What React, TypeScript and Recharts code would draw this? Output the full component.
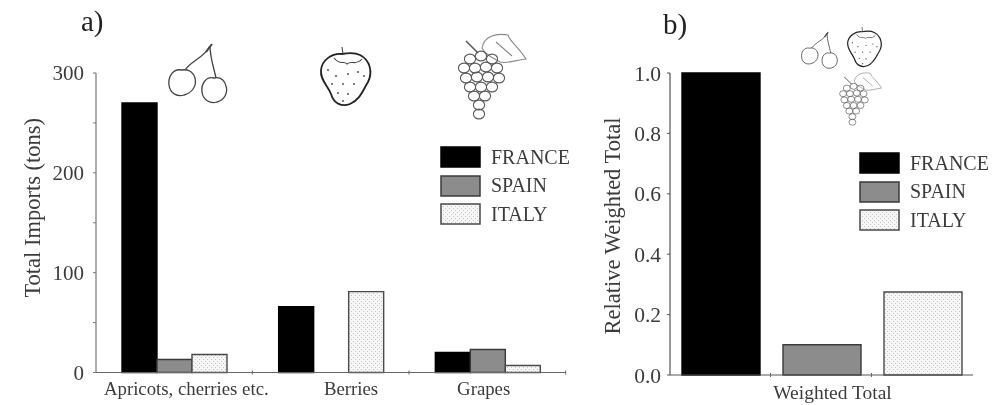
import { BarChart, Bar, XAxis, YAxis, Legend, Label } from "recharts";

const fruitLabels = ["Apricots, cherries etc.", "Berries", "Grapes"];
const franceTons = [270, 66, 20];
const spainTons = [13, 0, 23];
const italyTons = [18, 81, 7];
const tonTicks = [0, 50, 100, 150, 200, 250, 300];

const weightedLabels = ["Weighted Total"];
const franceWeighted = [1.0];
const spainWeighted = [0.1];
const italyWeighted = [0.275];
const weightedTicks = [0, 0.2, 0.4, 0.6, 0.8, 1.0];

const importsData = fruitLabels.map((name, i) => ({
  name,
  france: franceTons[i],
  spain: spainTons[i],
  italy: italyTons[i],
}));

const weightedData = weightedLabels.map((name, i) => ({
  name,
  france: franceWeighted[i],
  spain: spainWeighted[i],
  italy: italyWeighted[i],
}));

const FONT = '"Liberation Serif", serif';
const TEXT = "#3c3c3c";

const series = [
  { key: "france", label: "FRANCE", fill: "#000000", stroke: "#000000" },
  { key: "spain", label: "SPAIN", fill: "#8c8c8c", stroke: "#3a3a3a" },
  { key: "italy", label: "ITALY", fill: "url(#dots)", stroke: "#4a4a4a" },
];

const Dots = () => (
  <defs>
    <pattern id="dots" width="4" height="4" patternUnits="userSpaceOnUse">
      <rect width="4" height="4" fill="#f6f6f6" />
      <rect x="1" y="1" width="1" height="1" fill="#c4c4c4" />
      <rect x="3" y="3" width="1" height="1" fill="#c4c4c4" />
    </pattern>
  </defs>
);

const LegendBox = () => (
  <div style={{ fontFamily: FONT, fontSize: 20, color: TEXT }}>
    {series.map((s) => (
      <div key={s.key} style={{ display: "flex", alignItems: "center", height: 28.5 }}>
        <svg width={41} height={22} style={{ marginRight: 10 }}>
          <rect x={1} y={1} width={39} height={20} fill={s.fill} stroke={s.stroke} strokeWidth={1.5} />
        </svg>
        <span>{s.label}</span>
      </div>
    ))}
  </div>
);

// labels sit off the band centre in the original, small marks fall between groups
const CategoryTick = ({ x, y, payload, shift, marks, drop, size }: any) => (
  <g>
    {marks.map((m: number) => (
      <line key={m} x1={x + m} x2={x + m} y1={y - 10} y2={y - 6} stroke="#666" />
    ))}
    <text
      x={x + shift[payload.index]}
      y={y + drop}
      textAnchor="middle"
      fontFamily={FONT}
      fontSize={size}
      fill={TEXT}
    >
      {payload.value}
    </text>
  </g>
);

const Cherries = ({ transform }: { transform: string }) => (
  <g transform={transform} fill="none" stroke="#444" strokeWidth={1.3}>
    <path d="M210 46 C204 58 192 60 185 70" />
    <path d="M210 46 C210 58 214 68 216 78" />
    <path d="M206 52 L212 44" strokeWidth={2} />
    <path d="M182 70 C172 68 168 78 169 85 C170 94 178 97 184 95 C192 93 197 86 195 78 C193 71 187 69 182 70 Z" />
    <path d="M214 78 C206 76 201 84 202 92 C203 100 210 104 217 102 C225 100 228 92 226 86 C224 79 219 77 214 78 Z" />
  </g>
);

const Strawberry = ({ transform }: { transform: string }) => (
  <g transform={transform}>
    <path
      d="M342 54 C332 53 322 60 321 70 C320 80 328 86 331 94 C334 104 342 107 350 104 C360 100 363 90 368 82 C373 72 370 60 360 55 C354 52 348 53 342 54 Z"
      fill="none"
      stroke="#222"
      strokeWidth={1.8}
    />
    <path d="M342 47 L343 54 M334 58 C340 66 344 60 347 64 C351 60 356 66 362 59" fill="none" stroke="#444" strokeWidth={1.1} />
    <g fill="#444">
      <circle cx={328} cy={70} r={0.9} />
      <circle cx={336} cy={76} r={0.9} />
      <circle cx={348} cy={74} r={0.9} />
      <circle cx={358} cy={72} r={0.9} />
      <circle cx={364} cy={76} r={0.9} />
      <circle cx={332} cy={84} r={0.9} />
      <circle cx={343} cy={84} r={0.9} />
      <circle cx={354} cy={84} r={0.9} />
      <circle cx={338} cy={93} r={0.9} />
      <circle cx={348} cy={94} r={0.9} />
      <circle cx={343} cy={101} r={0.9} />
    </g>
  </g>
);

const Grapes = ({ transform }: { transform: string }) => (
  <g transform={transform} fill="none" stroke="#5a5a5a" strokeWidth={1.1}>
    <path d="M466 41 L478 53" strokeWidth={1.6} />
    <path d="M482 48 C484 36 496 33 508 35 C510 42 518 46 526 59 C516 60 506 64 500 62 C494 58 486 56 482 48 Z" stroke="#8a8a8a" />
    <path d="M496 42 L512 56" stroke="#8a8a8a" />
    {[
      [470, 59], [481, 56], [492, 59], [464, 68], [475, 68], [486, 67], [497, 68],
      [466, 78], [477, 77], [488, 77], [499, 78], [470, 87], [481, 87], [492, 87],
      [474, 96], [485, 96], [479, 105], [479, 114],
    ].map(([cx, cy]) => (
      <ellipse key={`${cx}-${cy}`} cx={cx} cy={cy} rx={5.6} ry={4.9} />
    ))}
  </g>
);

const App = () => {
  return (
    <div
      style={{
        position: "absolute",
        left: 0,
        top: 0,
        width: 997,
        height: 405,
        background: "#fff",
        overflow: "hidden",
        filter: "blur(0.55px)",
      }}
    >
      <BarChart
        width={600}
        height={405}
        data={importsData}
        margin={{ top: 73, right: 34, bottom: 0, left: 36 }}
        barGap={0}
        barSize={35}
        style={{ position: "absolute", left: 0, top: 0 }}
      >
        <Dots />
        <XAxis
          dataKey="name"
          interval={0}
          height={32.5}
          tickLine={false}
          axisLine={{ stroke: "#666", strokeWidth: 1.2 }}
          tick={<CategoryTick shift={[12, 20, -4]} marks={[78]} drop={14} size={18.8} />}
        />
        <YAxis
          width={60}
          domain={[0, 300]}
          ticks={tonTicks}
          interval={0}
          tickFormatter={(v: number) => (v % 100 === 0 ? String(v) : "")}
          tickSize={3}
          tickMargin={9}
          axisLine={{ stroke: "#777", strokeWidth: 1.2 }}
          tickLine={{ stroke: "#777" }}
          tick={{ fontFamily: FONT, fontSize: 21, fill: TEXT }}
        >
          <Label
            value="Total Imports (tons)"
            angle={-90}
            position="insideLeft"
            offset={-4}
            dy={-15}
            style={{ fontFamily: FONT, fontSize: 22.5, fill: TEXT, textAnchor: "middle" }}
          />
        </YAxis>
        <Legend
          layout="vertical"
          align="center"
          verticalAlign="middle"
          content={<LegendBox />}
          wrapperStyle={{ left: 440, top: 143, width: 140 }}
        />
        {series.map((s) => (
          <Bar
            key={s.key}
            dataKey={s.key}
            fill={s.fill}
            stroke={s.stroke}
            strokeWidth={1.4}
            isAnimationActive={false}
          />
        ))}
      </BarChart>

      <BarChart
        width={397}
        height={405}
        data={weightedData}
        margin={{ top: 73, right: 24, bottom: 0, left: 20 }}
        barGap={23}
        barSize={78}
        style={{ position: "absolute", left: 600, top: 0 }}
      >
        <Dots />
        <XAxis
          dataKey="name"
          interval={0}
          height={30}
          tickLine={false}
          axisLine={{ stroke: "#555", strokeWidth: 1.2 }}
          tick={<CategoryTick shift={[11]} marks={[-51, 50]} drop={16} size={19.5} />}
        />
        <YAxis
          width={50}
          domain={[0, 1]}
          ticks={weightedTicks}
          interval={0}
          tickFormatter={(v: number) => v.toFixed(1)}
          tickSize={3}
          tickMargin={6}
          axisLine={{ stroke: "#555", strokeWidth: 1.2 }}
          tickLine={{ stroke: "#555" }}
          tick={{ fontFamily: FONT, fontSize: 21.5, fill: TEXT }}
        >
          <Label
            value="Relative Weighted Total"
            angle={-90}
            position="insideLeft"
            offset={-7}
            dx={-1}
            dy={2}
            style={{ fontFamily: FONT, fontSize: 22.5, fill: TEXT, textAnchor: "middle" }}
          />
        </YAxis>
        <Legend
          layout="vertical"
          align="center"
          verticalAlign="middle"
          content={<LegendBox />}
          wrapperStyle={{ left: 259, top: 149, width: 138 }}
        />
        {series.map((s) => (
          <Bar
            key={s.key}
            dataKey={s.key}
            fill={s.fill}
            stroke={s.stroke}
            strokeWidth={1.4}
            isAnimationActive={false}
          />
        ))}
      </BarChart>

      <svg width={997} height={405} style={{ position: "absolute", left: 0, top: 0, pointerEvents: "none" }}>
        <text x={81} y={31} fontFamily={FONT} fontSize={29} fill="#222">a)</text>
        <text x={663} y={34} fontFamily={FONT} fontSize={29} fill="#222">b)</text>
        <Cherries transform="" />
        <Strawberry transform="" />
        <Grapes transform="" />
        <Cherries transform="translate(801 32) scale(0.62) translate(-168 -44)" />
        <Strawberry transform="translate(847 27) scale(0.68) translate(-320 -47)" />
        <Grapes transform="translate(840 72) scale(0.62) translate(-459 -33)" />
      </svg>
    </div>
  );
};

export default App;
